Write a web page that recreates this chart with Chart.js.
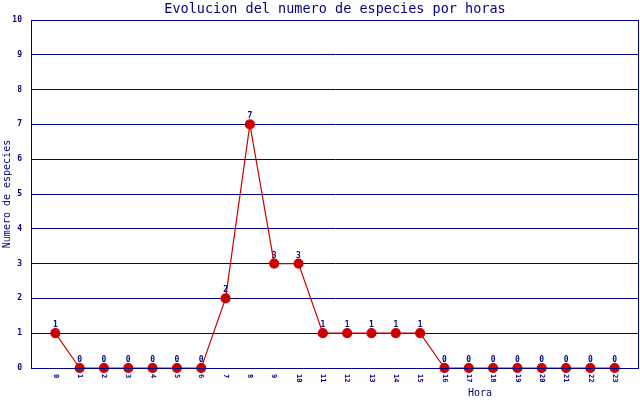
<!DOCTYPE html>
<html>
<head>
<meta charset="utf-8">
<script src="https://cdn.jsdelivr.net/npm/chart.js@4"></script>
<style>
  html, body { margin: 0; padding: 0; background: #fff; overflow: hidden; }
  #wrap { width: 640px; height: 400px; }
  canvas { display: block; }
</style>
</head>
<body>
<div id="wrap"><canvas id="myChart" width="640" height="400"></canvas></div>
<script>
const horas = [0, 1, 2, 3, 4, 5, 6, 7, 8, 9, 10, 11, 12, 13, 14, 15, 16, 17, 18, 19, 20, 21, 22, 23];
const especies = [1, 0, 0, 0, 0, 0, 0, 2, 7, 3, 3, 1, 1, 1, 1, 1, 0, 0, 0, 0, 0, 0, 0, 0];
const yTicks = [0, 1, 2, 3, 4, 5, 6, 7, 8, 9, 10];

const titulo = 'Evolucion del numero de especies por horas';
const tituloY = 'Numero de especies';
const tituloX = 'Hora';

const navy = '#000080';
const rojo = '#cc0000';
const mono = '"DejaVu Sans Mono", monospace';

const points = horas.map((h, i) => ({ x: h, y: especies[i] }));

const textos = {
    id: 'textos',
    afterDraw(chart) {
        const c = chart.ctx;
        const area = chart.chartArea;
        const xs = chart.scales.x;
        c.save();
        // marco
        c.strokeStyle = navy;
        c.lineWidth = 1;
        c.strokeRect(area.left + 0.5, area.top + 0.5, area.right - area.left - 1, area.bottom - area.top);

        c.fillStyle = navy;
        c.font = '13.5px ' + mono;
        c.textAlign = 'center';
        c.textBaseline = 'middle';
        c.fillText(titulo, (area.left + area.right) / 2, 9);

        // etiquetas eje x (giradas)
        c.font = 'bold 7px ' + mono;
        horas.forEach(h => {
            const px = xs.getPixelForValue(h);
            c.save();
            c.translate(px, area.bottom + 6);
            c.rotate(Math.PI / 2);
            c.textAlign = 'left';
            c.textBaseline = 'middle';
            c.fillText(String(h), 0, 0);
            c.restore();
        });

        // valores
        const meta = chart.getDatasetMeta(0);
        c.font = 'bold 8px ' + mono;
        c.textAlign = 'center';
        c.textBaseline = 'bottom';
        meta.data.forEach((p, i) => {
            c.fillText(String(especies[i]), p.x, p.y - 4);
        });

        c.font = '10px ' + mono;
        c.textBaseline = 'middle';
        c.fillText(tituloX, 480, 393);

        c.save();
        c.translate(7, (area.top + area.bottom) / 2);
        c.rotate(-Math.PI / 2);
        c.fillText(tituloY, 0, 0);
        c.restore();
        c.restore();
    }
};

const ctx = document.getElementById('myChart').getContext('2d');

const myChart = new Chart(ctx, {
    type: 'line',
    data: {
        datasets: [{
            label: 'Especies',
            data: points,
            borderColor: rojo,
            borderWidth: 1.2,
            pointBackgroundColor: rojo,
            pointBorderColor: rojo,
            pointRadius: 4.5,
            tension: 0,
            clip: false
        }]
    },
    options: {
        responsive: false,
        animation: false,
        layout: { autoPadding: false, padding: { top: 20, right: 1, left: 0, bottom: 0 } },
        plugins: {
            legend: { display: false },
            tooltip: { enabled: false }
        },
        scales: {
            x: {
                type: 'linear',
                min: -1,
                max: 24,
                grid: { display: false },
                border: { display: false },
                ticks: { display: false },
                afterFit(scale) {
                    scale.height = 32;
                    scale.paddingLeft = 0;
                    scale.paddingRight = 0;
                }
            },
            y: {
                min: 0,
                max: 10,
                afterBuildTicks(scale) { scale.ticks = yTicks.map(v => ({ value: v })); },
                grid: { color: navy, drawTicks: false, lineWidth: 1 },
                border: { color: navy },
                ticks: {
                    color: navy,
                    padding: 9,
                    font: { family: mono, size: 8, weight: 'bold' }
                },
                afterFit(scale) {
                    scale.width = 31;
                    scale.paddingTop = 0;
                    scale.paddingBottom = 0;
                }
            }
        }
    },
    plugins: [textos]
});
</script>
</body>
</html>
